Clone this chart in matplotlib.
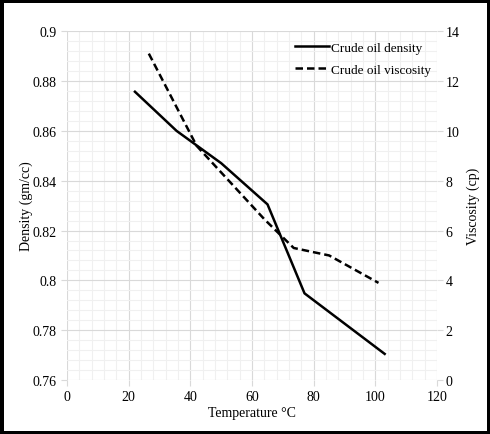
import matplotlib.pyplot as plt
from matplotlib.ticker import MultipleLocator

plt.rcParams['font.family'] = ['Liberation Serif', 'DejaVu Serif']

# readings from the reference chart
temp_density = [22, 35.5, 50, 65, 77, 103]
density = [0.8757, 0.860, 0.847, 0.8305, 0.7948, 0.7705]

temp_visc = [26.5, 42, 64, 73.5, 85, 101]
viscosity = [13.1, 9.4, 6.45, 5.3, 5.0, 3.9]

fig = plt.figure(figsize=(4.9, 4.35), dpi=100)
fig.patch.set_edgecolor('black')
fig.patch.set_linewidth(5)
ax = fig.add_axes([0.137, 0.124, 0.755, 0.802])
ax2 = ax.twinx()

l1, = ax.plot(temp_density, density, color='black', lw=1.8, label='Crude oil density')
l2, = ax2.plot(temp_visc, viscosity, color='black', lw=1.8, ls=(0, (3, 1.6)),
               label='Crude oil viscosity')

ax.set_xlim(0, 120)
ax.set_ylim(0.76, 0.9)
ax2.set_ylim(0, 14)
ax.xaxis.set_major_locator(MultipleLocator(20))
ax.xaxis.set_minor_locator(MultipleLocator(4))
ax.yaxis.set_major_locator(MultipleLocator(0.02))
ax.yaxis.set_minor_locator(MultipleLocator(0.004))
ax2.yaxis.set_major_locator(MultipleLocator(2))

ax.set_yticks([0.76, 0.78, 0.8, 0.82, 0.84, 0.86, 0.88, 0.9])
ax.set_yticklabels(['0.76', '0.78', '0.8', '0.82', '0.84', '0.86', '0.88', '0.9'])

ax.grid(which='major', color='#d9d9d9', lw=0.8)
ax.grid(which='minor', color='#f0f0f0', lw=0.8)
ax.set_axisbelow(True)

for a in (ax, ax2):
    for s in a.spines.values():
        s.set_visible(False)
    a.tick_params(which='major', length=4, color='#d9d9d9', labelsize=10)
    a.tick_params(which='minor', length=0)
ax2.tick_params(pad=2)

ax.set_xlabel('Temperature \u00b0C', fontsize=10, labelpad=2)
ax.set_ylabel('Density (gm/cc)', fontsize=10, labelpad=0)
ax2.set_ylabel('Viscosity (cp)', fontsize=10, labelpad=5)

ax.legend(handles=[l1, l2], loc='upper right', frameon=False, fontsize=9.5,
          handlelength=2.6, handletextpad=0.1, borderaxespad=0.0,
          labelspacing=0.75, bbox_to_anchor=(0.997, 0.985))

fig.savefig('out.png', dpi=100)
